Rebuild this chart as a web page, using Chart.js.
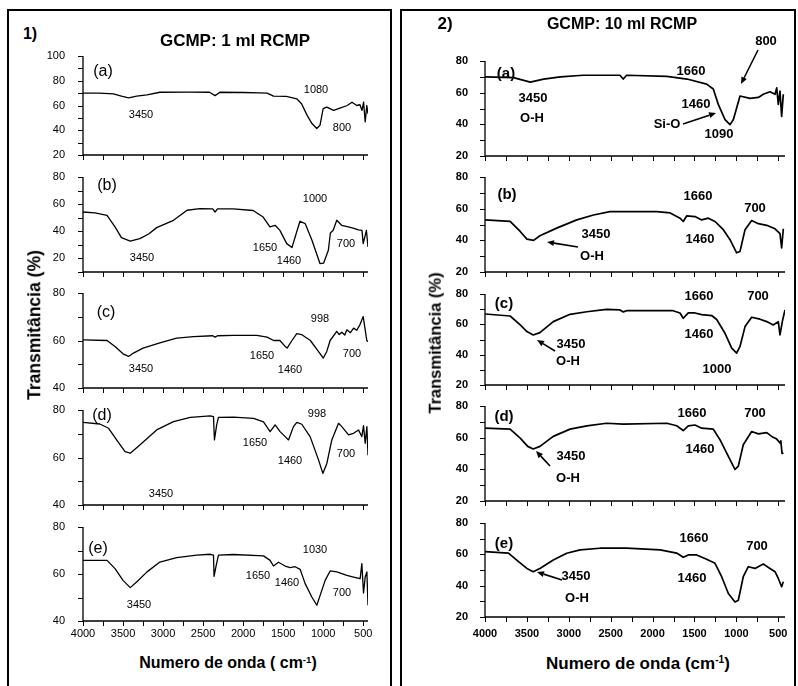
<!DOCTYPE html>
<html>
<head>
<meta charset="utf-8">
<script src="https://cdn.jsdelivr.net/npm/chart.js@4.4.0/dist/chart.umd.min.js"></script>
<style>
  body { margin: 0; background: #fff; width: 798px; height: 686px; position: relative; overflow: hidden;
         font-family: 'Liberation Sans', Arial, sans-serif; color: #000; }
  canvas { position: absolute; }
  .box { position: absolute; border: 2.5px solid #000; border-bottom: none; }
  .lbl { position: absolute; white-space: nowrap; line-height: 1; transform: translate(-50%, -50%); }
  .vt { transform: translate(-50%, -50%) rotate(-90deg); }
  sup { font-size: 0.6em; vertical-align: 0; position: relative; top: -0.55em; }
  svg { position: absolute; left: 0; top: 0; }
</style>
</head>
<body>
<div class="box" style="left:7px;top:9px;width:381px;height:700px"></div>
<div class="box" style="left:400px;top:9px;width:392px;height:700px"></div>
<svg id="arrows" width="798" height="686"></svg>
<script>
// ---- panel 1: GCMP 1 ml RCMP ----
const wnL_a = [4000, 3800, 3620, 3520, 3430, 3330, 3200, 3040, 2700, 2420, 2350, 2290, 2000, 1800, 1700, 1620, 1460, 1330, 1270, 1200, 1140, 1080, 1040, 1000, 955, 870, 790, 700, 640, 580, 540, 515, 495, 475, 455, 440];
const trL_a = [70, 70, 69.4, 67.5, 66.2, 67.5, 68.6, 70.7, 70.8, 70.7, 68, 70.7, 70.5, 70.2, 70, 67.6, 67.3, 65.4, 61.4, 52, 45.4, 41.4, 44, 57.4, 58.7, 56, 57.9, 60, 62.7, 60, 60.6, 56, 62.7, 46.7, 60, 53.3];

const wnL_b = [4000, 3850, 3700, 3600, 3520, 3410, 3290, 3180, 3080, 2870, 2700, 2540, 2380, 2350, 2320, 2125, 1875, 1750, 1665, 1600, 1540, 1455, 1390, 1350, 1290, 1225, 1140, 1040, 995, 935, 910, 875, 830, 770, 685, 625, 560, 515, 500, 460, 440];
const trL_b = [54.2, 53.5, 51.8, 43.2, 35.3, 32.8, 34.6, 38, 42.7, 48.1, 55.5, 56.7, 56.5, 54.2, 56.5, 56.5, 55.3, 50.5, 43.2, 44.4, 40.7, 30.9, 28, 35.8, 47.4, 45.7, 33.4, 16.2, 16.5, 26, 38.7, 40.7, 48.1, 44.4, 43.2, 42.4, 41, 40.7, 30.9, 40.7, 28.4];

const wnL_c = [4000, 3700, 3600, 3500, 3430, 3370, 3250, 3040, 2830, 2620, 2380, 2350, 2320, 2120, 1830, 1700, 1620, 1540, 1475, 1450, 1390, 1330, 1270, 1160, 1060, 998, 955, 913, 830, 800, 767, 730, 704, 660, 620, 580, 540, 500, 475, 455, 440];
const trL_c = [60.3, 60, 57.5, 54.4, 53.3, 54.7, 56.8, 59, 61, 61.6, 62, 61.4, 62, 62.2, 62.2, 61.4, 60, 60, 57.5, 56.8, 60, 62.9, 62.5, 60, 55.4, 52.6, 55.4, 60, 63.8, 62.5, 63.5, 62.3, 64.5, 63.3, 65.2, 64.3, 66.7, 70.1, 64.5, 60, 59.5];

const wnL_d = [4000, 3790, 3680, 3580, 3475, 3410, 3290, 3080, 2870, 2660, 2410, 2370, 2358, 2330, 2308, 2120, 1870, 1745, 1663, 1600, 1538, 1475, 1433, 1371, 1329, 1267, 1163, 1058, 1004, 954, 892, 808, 767, 683, 621, 558, 517, 496, 475, 454, 440];
const trL_d = [74.8, 74.1, 72.3, 67.4, 62.5, 61.8, 65.3, 71.6, 75.1, 76.9, 77.5, 77.2, 67.4, 73.7, 76.9, 77, 76.5, 75, 70.9, 73.7, 70.9, 68.8, 67.4, 73, 74.8, 74, 68.8, 59, 53.3, 57.5, 67.4, 74.4, 73, 69.5, 70.2, 71.6, 68.8, 73.4, 66, 73, 61];

const wnL_e = [4000, 3700, 3600, 3500, 3410, 3330, 3200, 3040, 2830, 2580, 2410, 2370, 2363, 2340, 2308, 2120, 1745, 1663, 1621, 1558, 1475, 1413, 1350, 1288, 1225, 1142, 1079, 1038, 975, 913, 829, 704, 621, 538, 517, 496, 475, 454, 440];
const trL_e = [65.8, 65.8, 62.3, 57.3, 54.2, 56.6, 60.9, 65.1, 67, 68, 68.4, 68, 59, 63, 68, 68.3, 67.7, 65.8, 63.4, 65, 63.4, 62.7, 63.1, 62, 55.9, 50.2, 46.7, 50.9, 57.3, 61.3, 60.9, 59.4, 58.7, 58, 64.4, 51.9, 58.7, 60.9, 46.7];

// ---- panel 2: GCMP 10 ml RCMP ----
const wnR_a = [4000, 3660, 3460, 3300, 3100, 2830, 2390, 2350, 2310, 1830, 1590, 1355, 1276, 1216, 1136, 1076, 1036, 997, 957, 838, 738, 679, 599, 539, 519, 500, 480, 460, 440];
const trR_a = [70, 69.5, 66.7, 68.6, 70, 71, 71, 68.6, 71, 70.3, 68.6, 65.4, 62.3, 52.6, 43, 39.8, 43, 50.3, 57.9, 56.4, 57, 59, 60.6, 59, 63, 52.6, 61, 45, 59];

const wnR_b = [4000, 3700, 3580, 3500, 3420, 3345, 3145, 2905, 2705, 2510, 1950, 1790, 1673, 1634, 1594, 1494, 1414, 1335, 1255, 1156, 1076, 997, 957, 897, 818, 738, 638, 539, 480, 460, 440];
const trR_b = [52.9, 52, 45.6, 40.8, 40, 42.9, 47.7, 52.9, 56, 58.1, 58.1, 57.3, 54, 51.9, 55.4, 55, 52.9, 54, 51.9, 46.7, 40.4, 32.1, 33, 46.7, 52.5, 50.5, 49.5, 47.3, 44.2, 35.2, 47.3];

const wnR_c = [4000, 3700, 3580, 3500, 3425, 3345, 3185, 2985, 2785, 2550, 2390, 2350, 2310, 1755, 1673, 1634, 1574, 1494, 1414, 1295, 1235, 1136, 1056, 997, 957, 897, 818, 718, 638, 560, 500, 480, 448, 420];
const trR_c = [66.8, 65.5, 59.6, 55.2, 53, 54.5, 61.8, 66.6, 68.3, 69.9, 69.5, 68.2, 69, 69, 67.5, 64, 67.5, 67.5, 66.4, 65.8, 63.2, 54.1, 44.3, 41, 45.4, 58.5, 64.7, 63.4, 61.8, 59.6, 61.8, 53, 62.9, 69.5];

const wnR_d = [4000, 3700, 3580, 3490, 3425, 3345, 3185, 2985, 2785, 2550, 2350, 1830, 1713, 1634, 1574, 1494, 1414, 1276, 1196, 1096, 1017, 977, 918, 818, 738, 638, 579, 519, 480, 470, 455, 440];
const trR_d = [66, 65.4, 59.7, 54.5, 52.8, 54.5, 60.8, 65.4, 67.5, 69.1, 68.6, 69.1, 67.5, 64.5, 67.5, 68, 66, 65.4, 58.7, 48.2, 39.9, 42, 55.5, 63.9, 62.4, 63.2, 60.8, 59.1, 56.6, 58, 50, 50.4];

const wnR_e = [4000, 3720, 3600, 3500, 3425, 3345, 3185, 3025, 2865, 2630, 2310, 1910, 1713, 1634, 1574, 1474, 1355, 1255, 1176, 1096, 1017, 977, 918, 858, 778, 679, 599, 539, 500, 460, 440];
const trR_e = [61.7, 60.8, 55.3, 51, 48.9, 51, 56.4, 60.7, 62.8, 63.9, 63.9, 62.8, 60.8, 58.1, 59.6, 59.6, 56.8, 54.3, 45.7, 35, 29.6, 30.7, 45.7, 52.1, 51, 53.8, 51, 48.9, 44.6, 39.3, 42.5];

const FONT = "'Liberation Sans', Arial, sans-serif";

// plot boxes in page pixels (chart area), axis ranges
const plots = [
  { x: wnL_a, y: trL_a, x0: 83, x1: 368, y0: 56, y1: 155, xmin: 440, ymin: 20, ymax: 100, side: 'L' },
  { x: wnL_b, y: trL_b, x0: 83, x1: 368, y0: 177, y1: 272, xmin: 440, ymin: 10, ymax: 80, side: 'L' },
  { x: wnL_c, y: trL_c, x0: 83, x1: 368, y0: 293, y1: 388, xmin: 440, ymin: 40, ymax: 80, side: 'L' },
  { x: wnL_d, y: trL_d, x0: 83, x1: 368, y0: 410, y1: 505, xmin: 440, ymin: 40, ymax: 80, side: 'L' },
  { x: wnL_e, y: trL_e, x0: 83, x1: 368, y0: 527, y1: 621, xmin: 440, ymin: 40, ymax: 80, side: 'L', labels: true },
  { x: wnR_a, y: trR_a, x0: 485, x1: 785, y0: 61, y1: 156, xmin: 420, ymin: 20, ymax: 80, side: 'R' },
  { x: wnR_b, y: trR_b, x0: 485, x1: 785, y0: 177, y1: 272, xmin: 420, ymin: 20, ymax: 80, side: 'R' },
  { x: wnR_c, y: trR_c, x0: 485, x1: 785, y0: 294, y1: 385, xmin: 420, ymin: 20, ymax: 80, side: 'R' },
  { x: wnR_d, y: trR_d, x0: 485, x1: 785, y0: 406, y1: 501, xmin: 420, ymin: 20, ymax: 80, side: 'R' },
  { x: wnR_e, y: trR_e, x0: 485, x1: 785, y0: 523, y1: 617, xmin: 420, ymin: 20, ymax: 80, side: 'R', labels: true }
];

// axis lines and short outward tick marks, drawn from the chart's own scales
const axesPlugin = {
  id: 'axes',
  afterDraw(chart) {
    const { ctx, chartArea: ca, scales: { x, y } } = chart;
    ctx.save();
    ctx.strokeStyle = '#000';
    ctx.lineWidth = 1.3;
    ctx.beginPath();
    ctx.moveTo(ca.left, ca.top);
    ctx.lineTo(ca.left, ca.bottom);
    ctx.lineTo(ca.right, ca.bottom);
    ctx.stroke();
    ctx.lineWidth = 1;
    ctx.beginPath();
    x.ticks.forEach(t => {
      const px = Math.round(x.getPixelForValue(t.value)) + 0.5;
      ctx.moveTo(px, ca.bottom);
      ctx.lineTo(px, ca.bottom + 5);
    });
    y.ticks.forEach(t => {
      const py = Math.round(y.getPixelForValue(t.value)) + 0.5;
      ctx.moveTo(ca.left, py);
      ctx.lineTo(ca.left - 5, py);
    });
    ctx.stroke();
    ctx.restore();
  }
};

function addPlot(p) {
  const right = p.side === 'R';
  const cv = document.createElement('canvas');
  cv.width = 50 + (p.x1 - p.x0) + 16;
  cv.height = 8 + (p.y1 - p.y0) + (p.labels ? 26 : 8);
  document.body.appendChild(cv);
  const tickFont = { family: FONT, size: 11, weight: right ? 'bold' : 'normal' };
  const hidden = 'rgba(0,0,0,0)';

  const chart = new Chart(cv, {
    type: 'line',
    data: {
      datasets: [{
        data: p.x.map((w, i) => ({ x: w, y: p.y[i] })),
        borderColor: '#000',
        borderWidth: right ? 1.7 : 1.3,
        pointRadius: 0,
        tension: 0,
        borderJoinStyle: 'round'
      }]
    },
    plugins: [axesPlugin],
    options: {
      responsive: false,
      maintainAspectRatio: false,
      animation: false,
      events: [],
      layout: { padding: { top: 8, right: 16, left: 0, bottom: 0 } },
      plugins: { legend: { display: false }, tooltip: { enabled: false } },
      scales: {
        x: {
          type: 'linear', reverse: true, min: p.xmin, max: 4000,
          afterBuildTicks: s => {
            s.ticks = [];
            for (let v = 4000; v >= 500; v -= 250) s.ticks.push({ value: v });
          },
          afterFit: s => { s.height = p.labels ? 26 : 8; },
          ticks: {
            autoSkip: false, maxRotation: 0, color: '#000', font: tickFont, padding: 0,
            callback: v => (p.labels && v % 500 === 0) ? String(v) : ''
          },
          grid: { drawOnChartArea: false, color: hidden, tickLength: right ? 10 : 6 },
          border: { display: false }
        },
        y: {
          min: p.ymin, max: p.ymax,
          afterBuildTicks: s => {
            s.ticks = [];
            for (let v = p.ymin; v <= p.ymax; v += 10) s.ticks.push({ value: v });
          },
          afterFit: s => { s.width = 50; },
          ticks: {
            autoSkip: false, color: '#000', font: tickFont, padding: 0,
            callback: v => v % 20 === 0 ? String(v) : ''
          },
          grid: { drawOnChartArea: false, color: hidden, tickLength: right ? 17 : 18 },
          border: { display: false }
        }
      }
    }
  });

  // fit the chart area exactly onto the reference plot box
  let ca = chart.chartArea;
  const dw = (p.x1 - p.x0) - (ca.right - ca.left);
  const dh = (p.y1 - p.y0) - (ca.bottom - ca.top);
  if (Math.abs(dw) > 0.5 || Math.abs(dh) > 0.5) {
    chart.resize(cv.width + dw, cv.height + dh);
    ca = chart.chartArea;
  }
  cv.style.left = (p.x0 - ca.left) + 'px';
  cv.style.top = (p.y0 - ca.top) + 'px';
}
plots.forEach(addPlot);

// text labels: [text, cx, cy, size, bold]
const texts = [
  ['1)', 30, 34, 16, true], ['GCMP: 1 ml RCMP', 235, 40, 17, true],
  ['2)', 445, 23, 17, true], ['GCMP: 10 ml RCMP', 622, 24, 16, true],
  ['(a)', 103, 71, 16], ['1080', 316, 89, 11], ['3450', 141, 114, 11], ['800', 342, 127, 11],
  ['(b)', 107, 185, 16], ['1000', 315, 198, 11], ['3450', 142, 257, 11], ['1650', 265, 247, 11], ['1460', 289, 260, 11], ['700', 346, 243, 11],
  ['(c)', 106, 312, 16], ['998', 320, 318, 11], ['1650', 262, 355, 11], ['1460', 290, 369, 11], ['3450', 141, 368, 11], ['700', 352, 353, 11],
  ['(d)', 102, 415, 16], ['998', 317, 413, 11], ['1650', 255, 442, 11], ['1460', 290, 460, 11], ['700', 346, 453, 11], ['3450', 161, 493, 11],
  ['(e)', 98, 548, 16], ['1030', 315, 549, 11], ['1650', 258, 575, 11], ['1460', 287, 582, 11], ['700', 342, 592, 11], ['3450', 139, 604, 11],
  ['(a)', 506, 72, 15, true], ['1660', 691, 70, 13, true], ['800', 766, 40, 13, true], ['3450', 533, 97, 13, true], ['O-H', 532, 117, 13, true],
  ['1460', 696, 103, 13, true], ['Si-O', 667, 123, 13, true], ['1090', 719, 133, 13, true],
  ['(b)', 507, 193, 15, true], ['1660', 698, 195, 13, true], ['700', 755, 207, 13, true], ['3450', 596, 233, 13, true], ['O-H', 592, 255, 13, true], ['1460', 700, 238, 13, true],
  ['(c)', 504, 302, 15, true], ['1660', 699, 295, 13, true], ['700', 758, 295, 13, true], ['1460', 699, 333, 13, true], ['3450', 571, 343, 13, true], ['O-H', 568, 360, 13, true], ['1000', 717, 368, 13, true],
  ['(d)', 504, 415, 15, true], ['1660', 692, 412, 13, true], ['700', 755, 412, 13, true], ['1460', 700, 448, 13, true], ['3450', 571, 455, 13, true], ['O-H', 568, 477, 13, true],
  ['(e)', 504, 542, 15, true], ['1660', 694, 537, 13, true], ['700', 757, 545, 13, true], ['1460', 692, 577, 13, true], ['3450', 576, 575, 13, true], ['O-H', 577, 597, 13, true]
];
texts.forEach(([t, x, y, size, bold]) => {
  const d = document.createElement('div');
  d.className = 'lbl';
  d.textContent = t;
  d.style.left = x + 'px';
  d.style.top = y + 'px';
  d.style.fontSize = size + 'px';
  d.style.fontWeight = bold ? 'bold' : 'normal';
  document.body.appendChild(d);
});

// axis titles
const titles = [
  ['Transmitância (%)', 35, 325, 17.5, true],
  ['Transmitância (%)', 435, 343, 16.5, true],
  ['Numero de onda ( cm<sup>-1</sup>)', 228, 663, 16, false],
  ['Numero de onda (cm<sup>-1</sup>)', 638, 663, 17, false]
];
titles.forEach(([t, x, y, size, vert]) => {
  const d = document.createElement('div');
  d.className = 'lbl' + (vert ? ' vt' : '');
  d.innerHTML = t;
  d.style.left = x + 'px';
  d.style.top = y + 'px';
  d.style.fontSize = size + 'px';
  d.style.fontWeight = 'bold';
  document.body.appendChild(d);
});

// arrows: [x1, y1, x2, y2] head at x2,y2
const arrows = [
  [758, 50, 741, 84], [683, 124, 716, 113], [578, 247, 547, 242],
  [555, 351, 537, 340], [550, 466, 536, 451], [562, 580, 537, 572]
];
const svg = document.getElementById('arrows');
let svgHtml = '';
arrows.forEach(([x1, y1, x2, y2]) => {
  const a = Math.atan2(y2 - y1, x2 - x1), L = 7, W = 3;
  const bx = x2 - L * Math.cos(a), by = y2 - L * Math.sin(a);
  const px = -Math.sin(a) * W, py = Math.cos(a) * W;
  svgHtml += `<line x1="${x1}" y1="${y1}" x2="${bx}" y2="${by}" stroke="#000" stroke-width="1.6"/>`;
  svgHtml += `<polygon points="${x2},${y2} ${bx + px},${by + py} ${bx - px},${by - py}" fill="#000"/>`;
});
svg.innerHTML = svgHtml;
</script>
</body>
</html>
